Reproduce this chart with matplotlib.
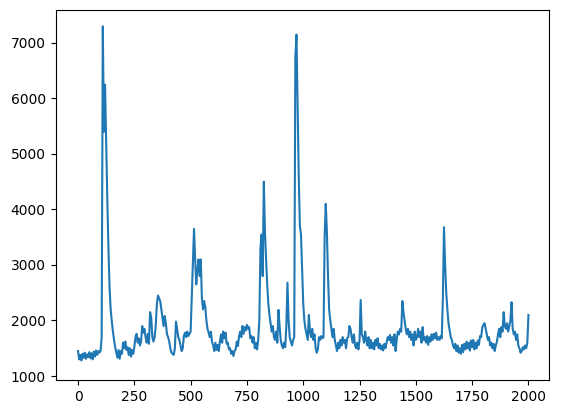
import numpy as np
import matplotlib
matplotlib.use("Agg")
import matplotlib.pyplot as plt

# sample index (every 5 steps) and values
t = list(range(0, 2001, 5))

v_0000 = [1450, 1300, 1380, 1280, 1400, 1330, 1420, 1310, 1390, 1340,
          1430, 1320, 1410, 1300, 1440, 1350, 1460, 1380, 1450, 1420]
v_0100 = [1450, 1700, 7300, 5400, 6250, 5200, 4200, 3300, 2600, 2200,
          1980, 1800, 1650, 1520, 1420, 1330, 1470, 1310, 1450, 1400]
v_0200 = [1600, 1500, 1620, 1470, 1520, 1380, 1500, 1350, 1470, 1400,
          1520, 1700, 1760, 1600, 1680, 1550, 1620, 1900, 1780, 1850]
v_0300 = [1700, 1600, 1760, 1580, 2150, 2050, 1700, 1620, 1700, 1900,
          2300, 2450, 2400, 2350, 2200, 2050, 1900, 2080, 1950, 1750]
v_0400 = [1700, 1620, 1500, 1420, 1400, 1380, 1500, 1980, 1850, 1700,
          1650, 1550, 1450, 1500, 1720, 1780, 1700, 1800, 1720, 1760]
v_0500 = [1800, 2400, 3000, 3650, 3100, 2650, 2900, 3100, 2800, 3100,
          2400, 2200, 2350, 2250, 2000, 1850, 1780, 1700, 1800, 1620]
v_0600 = [1550, 1450, 1600, 1470, 1560, 1450, 1620, 1750, 1600, 1800,
          1680, 1780, 1580, 1600, 1480, 1500, 1400, 1450, 1360, 1450]
v_0700 = [1480, 1620, 1540, 1720, 1800, 1700, 1900, 1760, 1880, 1820,
          1920, 1850, 1880, 1680, 1720, 1600, 1700, 1500, 1600, 1480]
v_0800 = [1650, 2000, 3300, 3550, 2800, 4500, 3600, 3100, 2650, 2300,
          2100, 1950, 1800, 1900, 1700, 1650, 1800, 1600, 2190, 1900]
v_0900 = [1650, 1550, 1500, 1600, 1520, 1900, 2680, 2000, 1700, 1620,
          1550, 1650, 1700, 6750, 7150, 5900, 4600, 3700, 3550, 2900]
v_1000 = [2300, 2000, 1850, 1750, 1650, 2100, 1800, 1700, 1850, 1650,
          1750, 1500, 1420, 1480, 1700, 1650, 1720, 1680, 1700, 3500]
v_1100 = [4100, 3600, 2800, 2200, 2000, 1850, 1700, 1850, 1650, 1550,
          1450, 1600, 1500, 1650, 1550, 1700, 1600, 1650, 1500, 1680]
v_1200 = [1700, 1900, 1850, 1700, 1600, 1750, 1550, 1500, 1600, 1480,
          1650, 2370, 1750, 1700, 1600, 1800, 1650, 1550, 1700, 1500]
v_1300 = [1650, 1500, 1600, 1480, 1650, 1550, 1680, 1500, 1580, 1480,
          1550, 1460, 1580, 1500, 1600, 1700, 1650, 1740, 1600, 1700]
v_1400 = [1550, 1750, 1450, 1650, 1800, 1750, 1850, 1800, 2350, 2150,
          2000, 1850, 1750, 1850, 1700, 1800, 1650, 1750, 1550, 1800]
v_1500 = [1650, 1700, 1850, 1700, 1800, 1600, 1880, 1650, 1700, 1600,
          1720, 1560, 1700, 1620, 1750, 1650, 1760, 1680, 1780, 1650]
v_1600 = [1700, 1650, 1720, 1680, 2400, 3680, 3000, 2500, 2200, 1950,
          1830, 1700, 1650, 1550, 1500, 1580, 1450, 1550, 1420, 1500]
v_1700 = [1400, 1560, 1430, 1580, 1480, 1620, 1500, 1600, 1460, 1640,
          1520, 1650, 1480, 1600, 1500, 1640, 1560, 1720, 1700, 1880]
v_1800 = [1920, 1950, 1850, 1750, 1650, 1700, 1550, 1600, 1500, 1580,
          1450, 1550, 1620, 1750, 1850, 1700, 1880, 1800, 2150, 1900]
v_1900 = [1850, 1950, 1800, 1900, 2000, 2330, 1850, 1750, 1800, 1650,
          1750, 1550, 1500, 1420, 1450, 1520, 1480, 1550, 1500, 1600,
          2100]

values = (v_0000 + v_0100 + v_0200 + v_0300 + v_0400 + v_0500 + v_0600
          + v_0700 + v_0800 + v_0900 + v_1000 + v_1100 + v_1200 + v_1300
          + v_1400 + v_1500 + v_1600 + v_1700 + v_1800 + v_1900)

fig = plt.figure(figsize=(5.61, 4.13), dpi=100)
ax = fig.add_axes([55.5 / 561, 1 - 380 / 413, (548.5 - 55.5) / 561, (380 - 10) / 413])
ax.plot(t, values, color="#1f77b4", linewidth=1.5)
ax.set_xlim(-100, 2089)
ax.set_ylim(928, 7594)
ax.set_xticks([0, 250, 500, 750, 1000, 1250, 1500, 1750, 2000])
ax.set_yticks([1000, 2000, 3000, 4000, 5000, 6000, 7000])
fig.savefig("out.png", dpi=100)
